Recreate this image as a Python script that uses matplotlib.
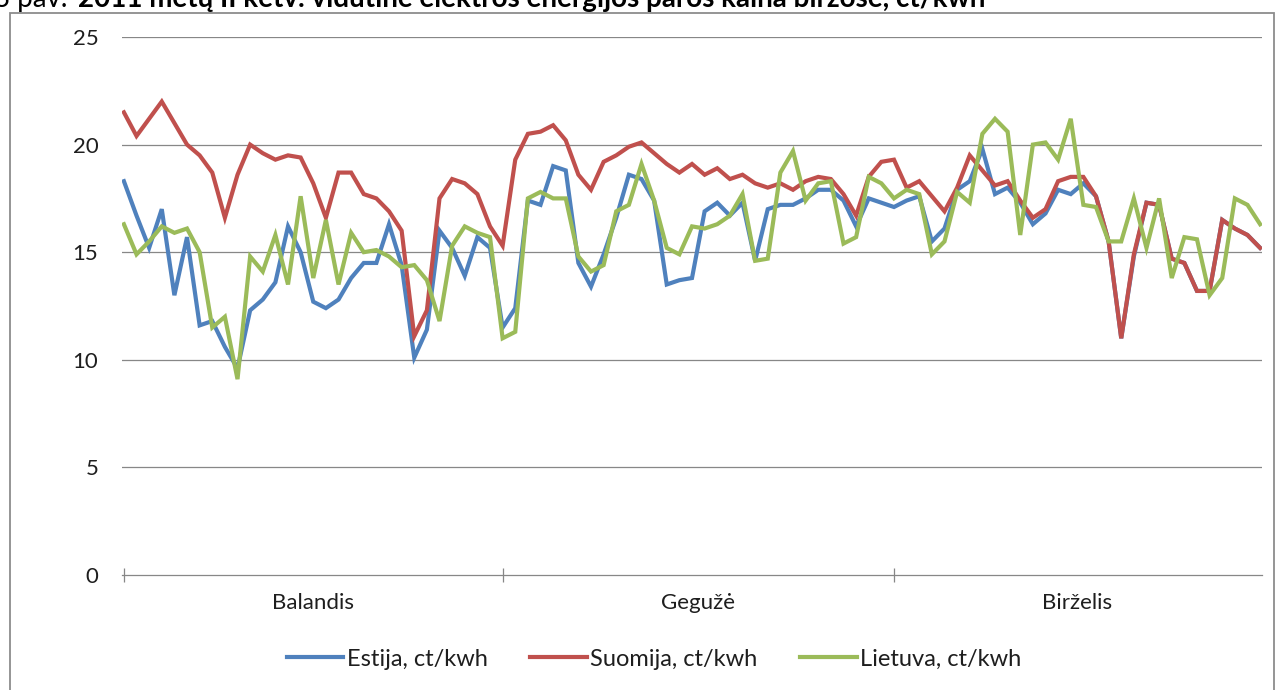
import numpy as np
import matplotlib
matplotlib.use('Agg')
import matplotlib.pyplot as plt
from matplotlib.patches import Rectangle

# 2011 m. II ketv. paros kainos, ct/kwh
months = ['Balandis', 'Gegužė', 'Birželis']
month_days = [30, 31, 30]

estija = [18.3, 16.7, 15.2, 17.0, 13.0, 15.7, 11.6, 11.8, 10.6, 9.6,
          12.3, 12.8, 13.6, 16.2, 15.0, 12.7, 12.4, 12.8, 13.8, 14.5,
          14.5, 16.3, 14.4, 10.1, 11.4, 16.0, 15.2, 13.9, 15.7, 15.2,
          11.5, 12.4, 17.4, 17.2, 19.0, 18.8, 14.5, 13.4, 14.9, 16.6,
          18.6, 18.4, 17.4, 13.5, 13.7, 13.8, 16.9, 17.3, 16.7, 17.3,
          14.6, 17.0, 17.2, 17.2, 17.5, 17.9, 17.9, 17.4, 16.2, 17.5,
          17.3, 17.1, 17.4, 17.6, 15.5, 16.1, 17.9, 18.3, 19.8, 17.7,
          18.0, 17.3, 16.3, 16.8, 17.9, 17.7, 18.2, 17.6, 15.5, 11.0,
          14.8, 17.3, 17.2, 14.7, 14.5, 13.2, 13.2, 16.5, 16.1, 15.8,
          15.2]
suomija = [21.5, 20.4, 21.2, 22.0, 21.0, 20.0, 19.5, 18.7, 16.6, 18.6,
           20.0, 19.6, 19.3, 19.5, 19.4, 18.2, 16.6, 18.7, 18.7, 17.7,
           17.5, 16.9, 16.0, 11.1, 12.3, 17.5, 18.4, 18.2, 17.7, 16.2,
           15.3, 19.3, 20.5, 20.6, 20.9, 20.2, 18.6, 17.9, 19.2, 19.5,
           19.9, 20.1, 19.6, 19.1, 18.7, 19.1, 18.6, 18.9, 18.4, 18.6,
           18.2, 18.0, 18.2, 17.9, 18.3, 18.5, 18.4, 17.7, 16.7, 18.5,
           19.2, 19.3, 18.0, 18.3, 17.6, 16.9, 18.0, 19.5, 18.8, 18.1,
           18.3, 17.4, 16.6, 17.0, 18.3, 18.5, 18.5, 17.6, 15.5, 11.0,
           14.9, 17.3, 17.2, 14.7, 14.5, 13.2, 13.2, 16.5, 16.1, 15.8,
           15.2]
lietuva = [16.3, 14.9, 15.5, 16.2, 15.9, 16.1, 15.0, 11.5, 12.0, 9.1,
           14.8, 14.1, 15.8, 13.5, 17.6, 13.8, 16.5, 13.5, 15.9, 15.0,
           15.1, 14.8, 14.3, 14.4, 13.7, 11.8, 15.3, 16.2, 15.9, 15.7,
           11.0, 11.3, 17.5, 17.8, 17.5, 17.5, 14.8, 14.1, 14.4, 16.9,
           17.2, 19.1, 17.4, 15.2, 14.9, 16.2, 16.1, 16.3, 16.7, 17.7,
           14.6, 14.7, 18.7, 19.7, 17.4, 18.2, 18.3, 15.4, 15.7, 18.5,
           18.2, 17.5, 17.9, 17.7, 14.9, 15.5, 17.8, 17.3, 20.5, 21.2,
           20.6, 15.8, 20.0, 20.1, 19.3, 21.2, 17.2, 17.1, 15.5, 15.5,
           17.5, 15.2, 17.5, 13.8, 15.7, 15.6, 13.0, 13.8, 17.5, 17.2,
           16.3]

series_names = ['Estija, ct/kwh', 'Suomija, ct/kwh', 'Lietuva, ct/kwh']
colors = ['#4F81BD', '#C0504D', '#9BBB59']

plt.rcParams['font.family'] = ['Lato', 'DejaVu Sans']
GRID = '#878787'
TXT = '#1e1e1e'

W, H = 1277, 690
fig = plt.figure(figsize=(W / 100, H / 100), dpi=100)
ax = fig.add_axes([122 / W, 1 - 575 / H, (1262 - 122) / W, (575 - 37) / H])

x = np.arange(len(estija))
for i, (vals, name, col) in enumerate(zip([estija, suomija, lietuva], series_names, colors)):
    ax.plot(x, vals, color=col, lw=3.0, label=name, zorder=3 + i,
            solid_joinstyle='miter')

ax.set_xlim(-0.15, len(x) - 1 + 0.15)
ax.set_ylim(0, 25)
ax.set_yticks(np.arange(0, 26, 5))
for v in range(5, 26, 5):
    ax.axhline(v, color=GRID, lw=0.9, zorder=1)

for s in ['top', 'right', 'left']:
    ax.spines[s].set_visible(False)
ax.spines['bottom'].set_color(GRID)
ax.spines['bottom'].set_linewidth(0.9)

ax.tick_params(axis='y', length=0, pad=17, labelsize=16, labelcolor=TXT)

# menesiu ribos ir pavadinimai
bounds = np.concatenate([[0], np.cumsum(month_days)])
bounds[-1] = len(x) - 1
ax.set_xticks(bounds[:-1])
ax.set_xticklabels([])
ax.tick_params(axis='x', which='major', direction='inout', length=10,
               width=0.9, color=GRID)
ax.set_xticks((bounds[:-1] + bounds[1:]) / 2, minor=True)
ax.set_xticklabels(months, minor=True)
ax.tick_params(axis='x', which='minor', length=0, pad=13, labelsize=16,
               labelcolor=TXT)

fig.legend(loc='center', bbox_to_anchor=(654 / W, 1 - 659 / H), ncol=3,
           frameon=False, fontsize=17, handlelength=2.4, handletextpad=0.15,
           columnspacing=1.8, labelcolor=TXT)

# remelis ir nukirptas pavadinimas
fig.patches.append(Rectangle((9.5 / W, -0.1), (1274 - 9.5) / W, 1 - 12.7 / H + 0.1,
                             transform=fig.transFigure, fill=False,
                             edgecolor='#8c8c8c', lw=1.3))
fig.text(-6 / W, 1 - 7 / H, '3 pav.', fontsize=20, va='baseline', ha='left')
fig.text(78 / W, 1 - 7 / H,
         '2011 metų II ketv. vidutinė elektros energijos paros kaina biržose, ct/kwh',
         fontsize=20, fontweight='bold', va='baseline', ha='left')

fig.savefig('out.png', dpi=100)
